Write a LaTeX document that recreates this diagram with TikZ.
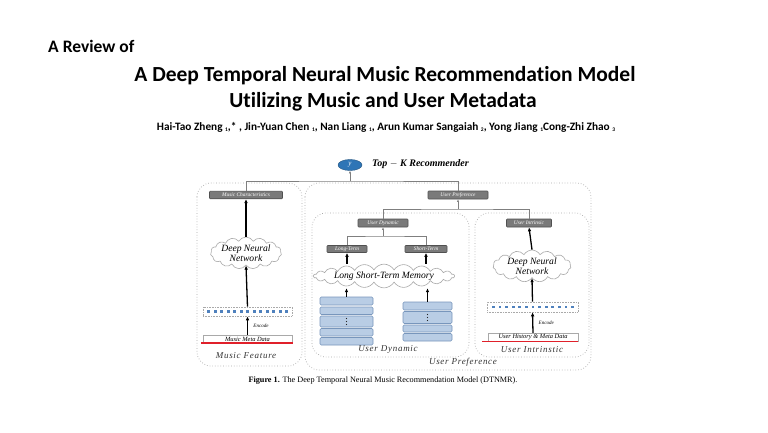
\documentclass[tikz,border=0pt]{standalone}
\usepackage{fontspec}
\setmainfont{Liberation Serif}
\newfontfamily\titlefont[Ligatures=NoCommon]{Carlito}
\usetikzlibrary{shapes.symbols,shapes.geometric,arrows.meta,calc}
\definecolor{boxgray}{HTML}{7A7A7A}
\definecolor{boxedge}{HTML}{505050}
\definecolor{dotgray}{HTML}{A9A9A9}
\definecolor{linegray}{HTML}{7F7F7F}
\definecolor{ovalblue}{HTML}{2E75B6}
\definecolor{cellfill}{HTML}{B9CDE5}
\definecolor{celledge}{HTML}{7896BC}
\definecolor{sqblue}{HTML}{4F81BD}
\definecolor{metared}{HTML}{E0202A}
\definecolor{labgray}{HTML}{333333}
\newcommand{\authsub}[1]{\raisebox{-1.5pt}{\fontsize{5.5}{5.5}\selectfont #1}}
\tikzset{
  outerbox/.style={draw=dotgray, dotted, line width=0.7pt, rounded corners=14pt},
  graybox/.style={draw=boxedge, fill=boxgray, line width=0.6pt, rounded corners=0.8pt, inner sep=0pt,
     font=\itshape\fontsize{5.4}{6}\selectfont, text=white},
  treeline/.style={draw=linegray, line width=0.6pt},
  treearrow/.style={draw=linegray, line width=0.6pt, -{Latex[length=2.6pt,width=2.2pt]}},
  bigarrow/.style={draw=black, line width=1.3pt, -{Latex[length=4pt,width=3.6pt]}},
  cloudnode/.style={cloud, cloud puffs=15, cloud puff arc=120, cloud ignores aspect, draw=dotgray,
     fill=white, line width=0.6pt, inner sep=0pt, font=\itshape\fontsize{9.6}{10}\selectfont, align=center},
  cell/.style={draw=celledge, fill=cellfill, line width=0.6pt, rounded corners=1.2pt, inner sep=0pt},
  vdot/.style={fill=black!85},
  vecbox/.style={draw=dotgray, densely dotted, line width=0.6pt, fill=white, inner sep=0pt},
  metabox/.style={draw=dotgray, line width=0.4pt, fill=white, inner sep=0pt, font=\itshape\fontsize{6.4}{7}\selectfont},
  redline/.style={draw=metared, line width=1.2pt},
  sublabel/.style={font={\fontsize{9}{10}\selectfont\itshape\addfontfeature{LetterSpace=8}}, text=labgray, inner sep=0pt},
  enclabel/.style={font=\itshape\fontsize{5}{6}\selectfont, anchor=west},
}
\begin{document}
\begin{tikzpicture}[x=1pt,y=-1pt]
\useasboundingbox (0,0) rectangle (768,432);
\fill[white] (0,0) rectangle (768,432);

% ---- heading
\node[font=\titlefont\bfseries\fontsize{17.5}{19}\selectfont, anchor=west, inner sep=0pt] (rev) at (48,46) {A Review of};
\node[font=\titlefont\bfseries\fontsize{21.5}{24}\selectfont, inner sep=0pt] (t1) at (385,76) {A Deep Temporal Neural Music Recommendation Model};
\node[font=\titlefont\bfseries\fontsize{21.5}{24}\selectfont, inner sep=0pt] (t2) at (383,102) {Utilizing Music and User Metadata};
\node[font=\titlefont\bfseries\fontsize{11.3}{13}\selectfont, inner sep=0pt] (auth) at (386,127)
  {Hai-Tao Zheng \authsub{1},* , Jin-Yuan Chen \authsub{1}, Nan Liang \authsub{1}, Arun Kumar Sangaiah \authsub{2}, Yong Jiang \authsub{1}Cong-Zhi Zhao \authsub{3}};

% ---- outer dotted groups
\draw[outerbox] (197,183) rectangle (302,366);
\draw[outerbox] (305,183) rectangle (591,370);
\draw[outerbox] (312,213) rectangle (469,357);
\draw[outerbox] (475,213) rectangle (589,357);

% ---- top
\node[ellipse, draw=ovalblue!70!black, fill=ovalblue, minimum width=24, minimum height=11, inner sep=0pt,
      font=\itshape\fontsize{7}{7}\selectfont, text=white] (yo) at (350,165) {y};
\node[anchor=west, inner sep=0pt, font=\bfseries\itshape\fontsize{10}{11}\selectfont] (topk) at (372,164) {Top $-$ K Recommender};

% ---- gray boxes
\node[graybox, minimum width=73, minimum height=7.5] (mc) at (246,195) {Music Characteristics};
\node[graybox, minimum width=60, minimum height=8] (up) at (458,195) {User Preference};
\node[graybox, minimum width=50, minimum height=8] (ud) at (383,223) {User Dynamic};
\node[graybox, minimum width=45, minimum height=8] (ui) at (529,223) {User Intrinsic};
\node[graybox, minimum width=40, minimum height=7] (lt) at (347,249) {Long-Term};
\node[graybox, minimum width=42, minimum height=7] (st) at (426,249) {Short-Term};

% ---- tree connectors
\coordinate (j1) at (350,181);
\coordinate (j2) at (458,209);
\coordinate (j3) at (383,236);
\draw[treeline] (mc.north) |- (j1) -| (up.north);
\draw[treearrow] (j1) -- (yo.south);
\draw[treeline] (ud.north) |- (j2) -| (ui.north);
\draw[treearrow] (j2) -- (up.south);
\draw[treeline] (lt.north) |- (j3) -| (st.north);
\draw[treearrow] (j3) -- (ud.south);

% ---- clouds
\node[cloudnode, minimum width=68, minimum height=32] (dnn1) at (246,253) {Deep Neural\\Network};
\node[cloudnode, minimum width=130, minimum height=16, cloud puffs=22] (lstm) at (384,276) {Long Short-Term Memory};
\node[cloudnode, minimum width=78, minimum height=32] (dnn2) at (532,266) {Deep Neural\\Network};

% ---- music feature column
\node[vecbox, minimum width=89, minimum height=9] (vec1) at (247.5,311.5) {};
\foreach \i in {0,...,12} \fill[sqblue] (207.2+\i*6.5,310.1) rectangle +(2.8,2.8);
\node[metabox, minimum width=89, minimum height=8] (meta1) at (247.5,339) {Music Meta Data};
\draw[redline] (201,343) -- (293,343);
\draw[bigarrow] (meta1.north) -- (vec1.south) node[enclabel, midway, xshift=2pt] (enc1) {Encode};
\draw[bigarrow] (vec1.north) -- (dnn1.south);
\draw[bigarrow] (dnn1.north) -- (mc.south);
\node[sublabel] (mf) at (246,356) {Music Feature};

% ---- user dynamic stacks
\node[cell, minimum width=53, minimum height=8] (s1a) at (346.5,301) {};
\node[cell, minimum width=53, minimum height=7.5] (s1b) at (346.5,310.75) {};
\node[cell, minimum width=53, minimum height=11] (s1c) at (346.5,321.5) {};
\node[cell, minimum width=53, minimum height=7.5] (s1d) at (346.5,332.25) {};
\node[cell, minimum width=53, minimum height=7.5] (s1e) at (346.5,341.25) {};
\foreach \dy in {-3,0,3} \fill[vdot] ($(s1c.center)+(0,\dy)$) circle (0.7);
\node[cell, minimum width=49, minimum height=8] (s2a) at (427.5,306) {};
\node[cell, minimum width=49, minimum height=12] (s2b) at (427.5,317.5) {};
\node[cell, minimum width=49, minimum height=7] (s2c) at (427.5,328.5) {};
\node[cell, minimum width=49, minimum height=7.5] (s2d) at (427.5,337.25) {};
\foreach \dy in {-3,0,3} \fill[vdot] ($(s2b.center)+(0,\dy)$) circle (0.7);
\draw[bigarrow] (s1a.north) -- (s1a.north |- lstm.south);
\draw[bigarrow] (s2a.north) -- (s2a.north |- lstm.south);
\draw[bigarrow] (lt.south |- lstm.north) -- (lt.south);
\draw[bigarrow] (st.south |- lstm.north) -- (st.south);
\node[sublabel] (udl) at (388,349) {User Dynamic};

% ---- user intrinsic column
\node[vecbox, minimum width=91, minimum height=10] (vec2) at (532.5,307) {};
\foreach \i in {0,...,12} \fill[sqblue] (492+\i*6.6,305.6) rectangle +(2.8,2.8);
\node[metabox, minimum width=90, minimum height=8] (meta2) at (533,337) {User History \& Meta Data};
\draw[redline] (482,341.5) -- (578,341.5);
\draw[bigarrow] (meta2.north) -- (vec2.south) node[enclabel, midway, xshift=2pt] (enc2) {Encode};
\draw[bigarrow] (vec2.north) -- (dnn2.south);
\draw[bigarrow] (dnn2.north) -- (ui.south);
\node[sublabel] (uil) at (532,350) {User Intrinstic};
\node[sublabel] (upl) at (463,362) {User Preference};

% ---- caption
\node[font=\fontsize{8.2}{9}\selectfont, inner sep=0pt] (cap) at (383,381) {\textbf{Figure 1.} The Deep Temporal Neural Music Recommendation Model (DTNMR).};
\end{tikzpicture}
\end{document}
